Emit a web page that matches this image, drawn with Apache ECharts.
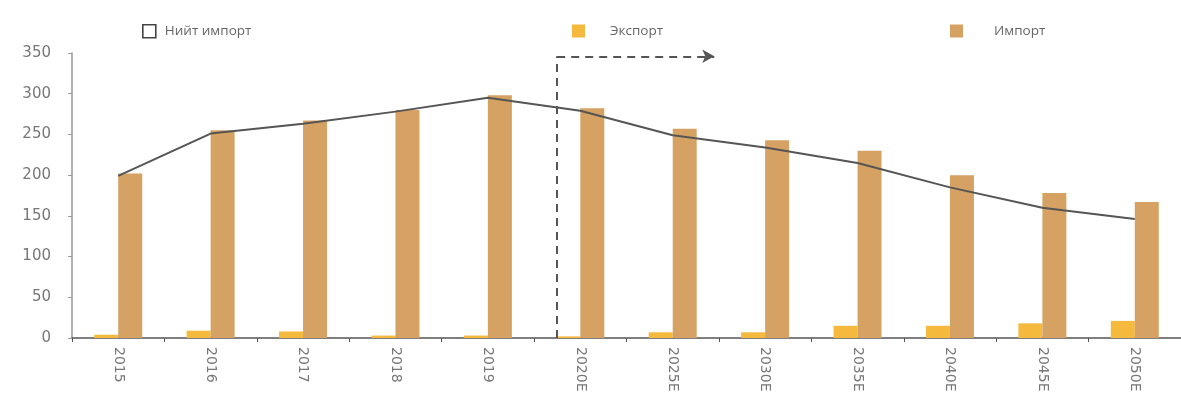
<!DOCTYPE html>
<html><head><meta charset="utf-8">
<script src="https://cdn.jsdelivr.net/npm/echarts@6/dist/echarts.min.js"></script>
<style>html,body{margin:0;padding:0;background:#fff}#c{width:1181px;height:420px}</style>
</head><body><div id="c"></div>
<script>
const categories = ['2015','2016','2017','2018','2019','2020E','2025E','2030E','2035E','2040E','2045E','2050E'];
const exportVals = [4, 9, 8, 3, 3, 2, 7, 7, 15, 15, 18, 21];
const importVals = [202, 255, 267, 280, 298, 282, 257, 243, 230, 200, 178, 167];
const netImport = [199, 251, 263, 278, 295, 279, 249, 234, 215, 185, 160, 146];
const yTicks = [0, 50, 100, 150, 200, 250, 300, 350];
const forecastStart = 4.75, arrowEnd = 6.45, arrowLevel = 346;

const font = 'Open Sans';
const numFont = 'DejaVu Sans';
const chart = echarts.init(document.getElementById('c'), null, {renderer:'canvas'});
chart.setOption({
  animation:false,
  textStyle:{fontFamily:font},
  grid:{left:72, right:-4, top:53, bottom:82, containLabel:false},
  legend:[
    {left:137, top:19, itemWidth:13, itemHeight:13, icon:'rect',
     textStyle:{color:'#666', fontSize:13.5, fontFamily:font, padding:[0,0,0,4]},
     data:[{name:'Нийт импорт', itemStyle:{color:'#fff', borderColor:'#444', borderWidth:1.6}}]},
    {left:567, top:19, itemWidth:13, itemHeight:13, icon:'rect',
     textStyle:{color:'#666', fontSize:13.5, fontFamily:font, padding:[0,0,0,20]},
     data:['Экспорт']},
    {left:945, top:19, itemWidth:13, itemHeight:13, icon:'rect',
     textStyle:{color:'#666', fontSize:13.5, fontFamily:font, padding:[0,0,0,26]},
     data:['Импорт']}
  ],
  xAxis:[{
    type:'category', data:categories, boundaryGap:true,
    axisLine:{lineStyle:{color:'#555', width:1.5}},
    axisTick:{show:true, length:4, lineStyle:{color:'#555'}},
    axisLabel:{rotate:-90, color:'#777', fontSize:14, margin:9, fontFamily:numFont}
  },{
    type:'value', min:-0.5, max:11.5, show:false
  }],
  yAxis:{
    type:'value', min:0, max:350, interval:50,
    axisLine:{show:true, onZero:false, lineStyle:{color:'#999', width:1.5}},
    axisTick:{show:true, length:4, lineStyle:{color:'#999'}},
    splitLine:{show:false},
    axisLabel:{color:'#777', fontSize:15, margin:21, fontFamily:numFont,
      formatter:v => yTicks.includes(v) ? String(v) : ''}
  },
  series:[
    {name:'Экспорт', type:'bar', data:exportVals, barWidth:24, barGap:'0%',
     itemStyle:{color:'#F5B93E'}},
    {name:'Импорт', type:'bar', data:importVals, barWidth:24,
     itemStyle:{color:'#D5A263'}},
    {name:'Нийт импорт', type:'line', data:netImport, symbol:'none', z:5,
     lineStyle:{color:'#555', width:2}, itemStyle:{color:'#555'}},
    {name:'arrow', type:'scatter', xAxisIndex:1, data:[], silent:true,
     markLine:{silent:true, animation:false, label:{show:false},
       lineStyle:{color:'#555', type:[8,6], width:2},
       data:[
         [{coord:[forecastStart,0], symbol:'none'},{coord:[forecastStart,arrowLevel], symbol:'none'}],
         [{coord:[forecastStart,arrowLevel], symbol:'none'},{coord:[arrowEnd,arrowLevel], symbol:'arrow', symbolSize:[10,12]}]
       ]}}
  ]
});
</script></body></html>
